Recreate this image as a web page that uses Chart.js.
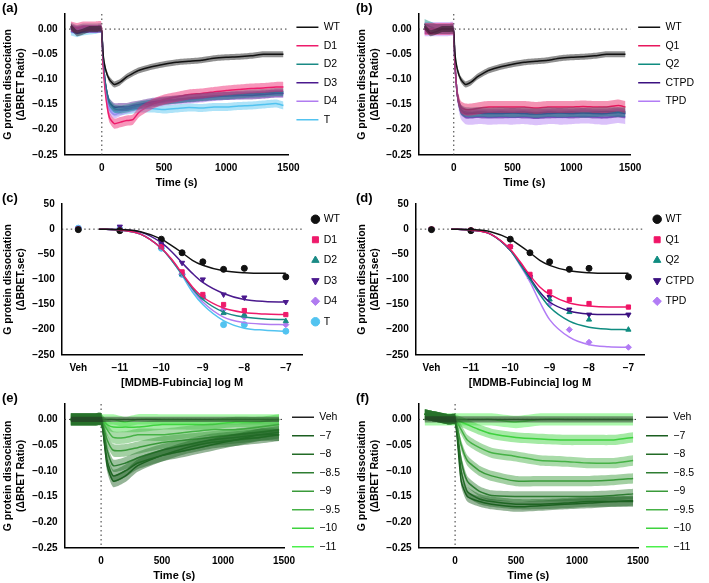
<!DOCTYPE html>
<html><head><meta charset="utf-8">
<script src="https://cdn.jsdelivr.net/npm/chart.js@4.4.1/dist/chart.umd.min.js"></script>
<style>
body{margin:0;background:#fff;font-family:Arial,"Liberation Sans",sans-serif;width:709px;height:583px;position:relative;overflow:hidden}
.p{position:absolute;width:354px}
.p canvas{width:354px!important}
.lab{position:absolute;left:2px;top:0;font-weight:bold;font-size:13px}
</style></head><body>
<div class="p" style="left:0;top:0;height:190px"><canvas id="ca" width="354" height="190"></canvas><div class="lab">(a)</div></div>
<div class="p" style="left:354px;top:0;height:190px"><canvas id="cb" width="354" height="190"></canvas><div class="lab">(b)</div></div>
<div class="p" style="left:0;top:190px;height:200px"><canvas id="cc" width="354" height="200"></canvas><div class="lab">(c)</div></div>
<div class="p" style="left:354px;top:190px;height:200px"><canvas id="cd" width="354" height="200"></canvas><div class="lab">(d)</div></div>
<div class="p" style="left:0;top:390px;height:193px"><canvas id="ce" width="354" height="193"></canvas><div class="lab">(e)</div></div>
<div class="p" style="left:354px;top:390px;height:193px"><canvas id="cf" width="354" height="193"></canvas><div class="lab">(f)</div></div>
<script>
// time course, panels a/b
const timeAB = [-250,-200,-150,-100,-50,-5,10,30,60,100,150,200,250,300,400,500,600,700,800,900,1000,1100,1200,1300,1400,1460];
const wtA = [0.005,-0.008,-0.005,0,0,0,-0.05,-0.08,-0.10,-0.11,-0.105,-0.095,-0.088,-0.082,-0.075,-0.07,-0.066,-0.064,-0.062,-0.058,-0.056,-0.055,-0.053,-0.05,-0.05,-0.05];
const d1A = [0.005,0.002,0.005,0.005,0.005,0.005,-0.07,-0.13,-0.175,-0.188,-0.185,-0.182,-0.18,-0.165,-0.15,-0.14,-0.135,-0.13,-0.128,-0.125,-0.122,-0.12,-0.118,-0.117,-0.115,-0.115];
const d2A = [0.005,0,0.003,0.003,0.003,0.003,-0.06,-0.11,-0.145,-0.158,-0.16,-0.158,-0.155,-0.152,-0.148,-0.143,-0.14,-0.137,-0.135,-0.133,-0.132,-0.13,-0.128,-0.127,-0.125,-0.125];
const d3A = [0.002,-0.002,0,0,0,0,-0.06,-0.11,-0.145,-0.155,-0.155,-0.155,-0.152,-0.15,-0.145,-0.142,-0.14,-0.138,-0.136,-0.134,-0.133,-0.132,-0.132,-0.13,-0.128,-0.128];
const d4A = [0,-0.003,0,0,0,0,-0.06,-0.12,-0.16,-0.17,-0.165,-0.16,-0.157,-0.153,-0.148,-0.145,-0.142,-0.14,-0.138,-0.135,-0.133,-0.132,-0.13,-0.13,-0.128,-0.128];
const tA = [-0.005,-0.008,-0.005,-0.003,-0.002,0,-0.06,-0.12,-0.155,-0.165,-0.163,-0.162,-0.16,-0.158,-0.158,-0.16,-0.158,-0.156,-0.157,-0.155,-0.155,-0.153,-0.152,-0.15,-0.148,-0.152];
const q1B = [0,0,0,0,0,0,-0.07,-0.13,-0.155,-0.16,-0.16,-0.158,-0.156,-0.155,-0.155,-0.155,-0.155,-0.157,-0.155,-0.155,-0.155,-0.154,-0.155,-0.155,-0.152,-0.155];
const q2B = [0.01,0.005,0,0,0,0,-0.07,-0.13,-0.16,-0.165,-0.166,-0.165,-0.165,-0.166,-0.165,-0.166,-0.165,-0.167,-0.165,-0.166,-0.165,-0.166,-0.165,-0.164,-0.165,-0.165];
const ctpdB = [0,0,0,0,0,0,-0.07,-0.13,-0.16,-0.168,-0.168,-0.167,-0.168,-0.168,-0.168,-0.167,-0.168,-0.169,-0.168,-0.167,-0.168,-0.167,-0.168,-0.168,-0.166,-0.168];
const tpdB = [0,0,0,0,0,0,-0.07,-0.13,-0.165,-0.175,-0.176,-0.175,-0.175,-0.176,-0.175,-0.176,-0.175,-0.177,-0.175,-0.176,-0.175,-0.174,-0.175,-0.176,-0.173,-0.175];
// concentration response, panels c/d
const doseX = [-12,-11,-10,-9.5,-9,-8.5,-8,-7];
const curveX = [-11.5,-11,-10.5,-10,-9.75,-9.5,-9.25,-9,-8.5,-8,-7.5,-7];
const wtPts = [-1,-3,-20,-47,-65,-80,-78,-95];
const wtFit = [0,-1,-5,-20,-33,-47,-62,-72,-83,-87,-88,-88];
const d1Pts = [0,-2,-35,-85,-130,-150,-162,-170];
const d1Fit = [0,-2,-10,-38,-60,-88,-115,-135,-157,-166,-169,-170];
const d2Pts = [0,-2,-35,-90,-135,-167,-170,-183];
const d2Fit = [0,-2,-10,-38,-62,-90,-118,-140,-165,-175,-179,-180];
const d3Pts = [1,5,-30,-67,-100,-130,-136,-145];
const d3Fit = [0,-1,-6,-27,-45,-67,-88,-106,-128,-140,-144,-145];
const d4Pts = [1,0,-35,-90,-135,-160,-175,-190];
const d4Fit = [0,-2,-10,-38,-62,-90,-120,-145,-175,-186,-189,-190];
const tPts = [2,0,-38,-90,-135,-190,-190,-203];
const tFit = [0,-2,-10,-38,-62,-92,-125,-150,-182,-197,-201,-203];
const q1Pts = [0,-2,-35,-90,-125,-140,-148,-155];
const q1Fit = [0,-2,-10,-40,-65,-92,-115,-130,-147,-153,-155,-155];
const q2Pts = [0,-2,-35,-95,-140,-165,-180,-200];
const q2Fit = [0,-2,-10,-42,-70,-100,-130,-155,-183,-195,-199,-200];
const ctpdPts = [0,-2,-35,-95,-135,-160,-170,-170];
const ctpdFit = [0,-2,-10,-42,-68,-97,-125,-145,-163,-169,-170,-170];
const tpdPts = [0,-2,-35,-95,-150,-200,-225,-235];
const tpdFit = [0,-2,-10,-42,-72,-105,-145,-180,-215,-230,-234,-235];
// concentration series, panels e/f
const timeEF = [-250,-150,-50,0,50,100,200,300,500,700,900,1100,1300,1460];
const concLabels = ['Veh','\u22127','\u22128','\u22128.5','\u22129','\u22129.5','\u221210','\u221211'];
const eSeries = [
  [0,0,0,0,0,0,0,0,0,0,0,0,0,0],
  [0,0,0,0,-0.09,-0.12,-0.11,-0.09,-0.07,-0.06,-0.05,-0.04,-0.035,-0.03],
  [0,0,0,0,-0.08,-0.11,-0.10,-0.085,-0.07,-0.055,-0.045,-0.04,-0.03,-0.03],
  [0,0,0,0,-0.06,-0.09,-0.085,-0.075,-0.06,-0.05,-0.04,-0.035,-0.03,-0.025],
  [0,0,0,0,-0.04,-0.06,-0.06,-0.055,-0.045,-0.04,-0.035,-0.03,-0.025,-0.02],
  [0,0,0,0,-0.02,-0.035,-0.035,-0.03,-0.03,-0.025,-0.02,-0.02,-0.015,-0.01],
  [0,0,0,0,-0.01,-0.015,-0.015,-0.015,-0.01,-0.01,-0.01,-0.005,-0.005,0],
  [0,0,0,0,0,0,-0.005,0,0,0,0,0,0,0]
];
const fSeries = [
  [0,0,0,0,0,0,0,0,0,0,0,0,0,0],
  [0.01,0.005,0,0,-0.12,-0.15,-0.16,-0.165,-0.17,-0.168,-0.165,-0.163,-0.16,-0.16],
  [0.01,0.005,0,0,-0.10,-0.14,-0.155,-0.16,-0.165,-0.165,-0.163,-0.16,-0.16,-0.158],
  [0.01,0.005,0,0,-0.08,-0.12,-0.14,-0.148,-0.15,-0.15,-0.15,-0.15,-0.148,-0.145],
  [0.01,0.005,0,0,-0.05,-0.08,-0.10,-0.11,-0.12,-0.12,-0.12,-0.12,-0.118,-0.115],
  [0.01,0.005,0,0,-0.02,-0.04,-0.055,-0.065,-0.072,-0.08,-0.082,-0.085,-0.085,-0.08],
  [0.01,0.005,0,0,-0.005,-0.01,-0.02,-0.028,-0.035,-0.038,-0.04,-0.04,-0.04,-0.035],
  [0,0,0,0,0,0,0,0,-0.005,0,0,0,0,0]
];
const greens = ['#222222','#1b5e20','#236b26','#2e7d32','#3a9a3a','#46b246','#3ed23e','#4cf04c'];

const minus = v => String(v).replace('-', '\u2212');
const FONT = {family: 'Arial, "Liberation Sans"', size: 10, weight: 'bold'};

const zeroLines = {
  id: 'zeroLines',
  beforeDatasetsDraw(c, a, o) {
    const {ctx, chartArea: ar, scales: {x, y}} = c;
    ctx.save();
    ctx.setLineDash([1.5, 3]);
    ctx.strokeStyle = '#333';
    ctx.lineWidth = 1;
    const y0 = y.getPixelForValue(0);
    ctx.beginPath(); ctx.moveTo(ar.left, y0); ctx.lineTo(ar.right, y0); ctx.stroke();
    if (o.vline) {
      const x0 = x.getPixelForValue(0);
      ctx.beginPath(); ctx.moveTo(x0, ar.top); ctx.lineTo(x0, ar.bottom); ctx.stroke();
    }
    ctx.restore();
  }
};

function band(times, vals, sem, color) {
  return [
    {label: '', data: times.map((t, i) => ({x: t, y: vals[i] - sem})), borderWidth: 0, pointRadius: 0, fill: false, tension: 0.2},
    {label: '', data: times.map((t, i) => ({x: t, y: vals[i] + sem})), borderWidth: 0, pointRadius: 0, fill: '-1', backgroundColor: color + '77', tension: 0.2}
  ];
}
function line(label, times, vals, color) {
  return {label, data: times.map((t, i) => ({x: t, y: vals[i]})), borderColor: color, backgroundColor: color, borderWidth: 1.5, pointRadius: 0, tension: 0.2};
}

function axes(yMin, yMax, yStep, yTitle, xOpts) {
  return {
    x: Object.assign({type: 'linear', grid: {display: false, tickLength: 4},
      border: {color: '#000', width: 1.5}}, xOpts),
    y: {min: yMin, max: yMax, grid: {display: false, tickLength: 4}, border: {color: '#000', width: 1.5},
      afterBuildTicks: a => { a.ticks = a.ticks.filter(t => Math.abs(Math.round(t.value / yStep) * yStep - t.value) < 1e-6); },
      ticks: {stepSize: yStep, font: FONT, color: '#000', callback: v => minus(yStep < 1 ? v.toFixed(2) : v)},
      title: {display: true, text: yTitle, font: {family: FONT.family, size: 10.5, weight: 'bold'}, color: '#000', padding: 2}}
  };
}

function timeChart(id, groups, sems) {
  const ds = [];
  groups.forEach((g, i) => ds.push(...band(g.t, g.v, sems[i], g.c)));
  groups.forEach(g => ds.push(line(g.label, g.t, g.v, g.c)));
  new Chart(document.getElementById(id), {
    type: 'line', data: {datasets: ds},
    plugins: [zeroLines],
    options: {responsive: false, animation: false,
      layout: {padding: {top: 14, right: 4}},
      plugins: {legend: {position: 'right', align: 'start',
        labels: {usePointStyle: true, pointStyle: 'line', pointStyleWidth: 22, boxHeight: 6, padding: 8,
          font: {family: FONT.family, size: 10.5}, color: '#000', filter: it => it.text !== ''}},
        tooltip: {enabled: false}, zeroLines: {vline: true}},
      scales: axes(-0.25, 0.03, 0.05, ['G protein dissociation', '(\u0394BRET Ratio)'],
        {min: -300, max: 1500, title: {display: true, text: 'Time (s)', font: {family: FONT.family, size: 11, weight: 'bold'}, color: '#000', padding: 0},
         afterBuildTicks: a => { a.ticks = [0, 500, 1000, 1500].map(v => ({value: v})); },
         ticks: {font: FONT, color: '#000', callback: v => String(v)}})}
  });
}

timeChart('ca', [
  {label: 'WT', t: timeAB, v: wtA, c: '#111111'},
  {label: 'D1', t: timeAB, v: d1A, c: '#ee1b6b'},
  {label: 'D2', t: timeAB, v: d2A, c: '#1a8a85'},
  {label: 'D3', t: timeAB, v: d3A, c: '#4b1a8e'},
  {label: 'D4', t: timeAB, v: d4A, c: '#b07cf0'},
  {label: 'T', t: timeAB, v: tA, c: '#52c3f0'}], [0.006, 0.01, 0.008, 0.008, 0.008, 0.008]);
timeChart('cb', [
  {label: 'WT', t: timeAB, v: wtA, c: '#111111'},
  {label: 'Q1', t: timeAB, v: q1B, c: '#e8175d'},
  {label: 'Q2', t: timeAB, v: q2B, c: '#0f8c80'},
  {label: 'CTPD', t: timeAB, v: ctpdB, c: '#3b1080'},
  {label: 'TPD', t: timeAB, v: tpdB, c: '#b27cf5'}], [0.006, 0.012, 0.01, 0.01, 0.014]);
timeChart('ce', concLabels.map((l, i) => ({label: l, t: timeEF, v: eSeries[i], c: greens[i]})),
  [0.005, 0.012, 0.012, 0.012, 0.012, 0.012, 0.01, 0.01]);
timeChart('cf', concLabels.map((l, i) => ({label: l, t: timeEF, v: fSeries[i], c: greens[i]})),
  [0.006, 0.01, 0.01, 0.01, 0.01, 0.01, 0.01, 0.012]);

function doseChart(id, groups) {
  const ds = [];
  groups.forEach(g => ds.push({label: '', data: curveX.map((x, i) => ({x, y: g.fit[i]})), borderColor: g.c, borderWidth: 1.5,
    pointRadius: 0, cubicInterpolationMode: 'monotone'}));
  groups.forEach(g => ds.push({label: g.label, data: doseX.map((x, i) => ({x, y: g.pts[i]})), showLine: false,
    pointStyle: g.s, rotation: g.r || 0, pointRadius: 3, borderColor: g.c, backgroundColor: g.c}));
  new Chart(document.getElementById(id), {
    type: 'line', data: {datasets: ds},
    plugins: [zeroLines],
    options: {responsive: false, animation: false,
      layout: {padding: {top: 14, right: 4}},
      plugins: {legend: {position: 'right', align: 'start', labels: {usePointStyle: true, boxWidth: 6, boxHeight: 6, padding: 10,
        font: {family: FONT.family, size: 10.5}, color: '#000', filter: it => it.text !== ''}}, tooltip: {enabled: false}, zeroLines: {}},
      scales: axes(-250, 50, 50, ['G protein dissociation', '(\u0394BRET.sec)'],
        {min: -12.4, max: -6.6, title: {display: true, text: '[MDMB-Fubincia] log M', font: {family: FONT.family, size: 11, weight: 'bold'}, color: '#000', padding: 0},
         afterBuildTicks: a => { a.ticks = [-12, -11, -10, -9, -8, -7].map(v => ({value: v})); },
         ticks: {font: FONT, color: '#000', callback: v => v === -12 ? 'Veh' : minus(v)}})}
  });
}
doseChart('cc', [
  {label: 'WT', pts: wtPts, fit: wtFit, c: '#111111', s: 'circle'},
  {label: 'D1', pts: d1Pts, fit: d1Fit, c: '#ee1b6b', s: 'rect'},
  {label: 'D2', pts: d2Pts, fit: d2Fit, c: '#1a8a85', s: 'triangle'},
  {label: 'D3', pts: d3Pts, fit: d3Fit, c: '#4b1a8e', s: 'triangle', r: 180},
  {label: 'D4', pts: d4Pts, fit: d4Fit, c: '#b07cf0', s: 'rectRot'},
  {label: 'T', pts: tPts, fit: tFit, c: '#52c3f0', s: 'circle'}]);
doseChart('cd', [
  {label: 'WT', pts: wtPts, fit: wtFit, c: '#111111', s: 'circle'},
  {label: 'Q1', pts: q1Pts, fit: q1Fit, c: '#f01466', s: 'rect'},
  {label: 'Q2', pts: q2Pts, fit: q2Fit, c: '#0f8c80', s: 'triangle'},
  {label: 'CTPD', pts: ctpdPts, fit: ctpdFit, c: '#3b1080', s: 'triangle', r: 180},
  {label: 'TPD', pts: tpdPts, fit: tpdFit, c: '#b27cf5', s: 'rectRot'}]);
</script>
</body></html>
